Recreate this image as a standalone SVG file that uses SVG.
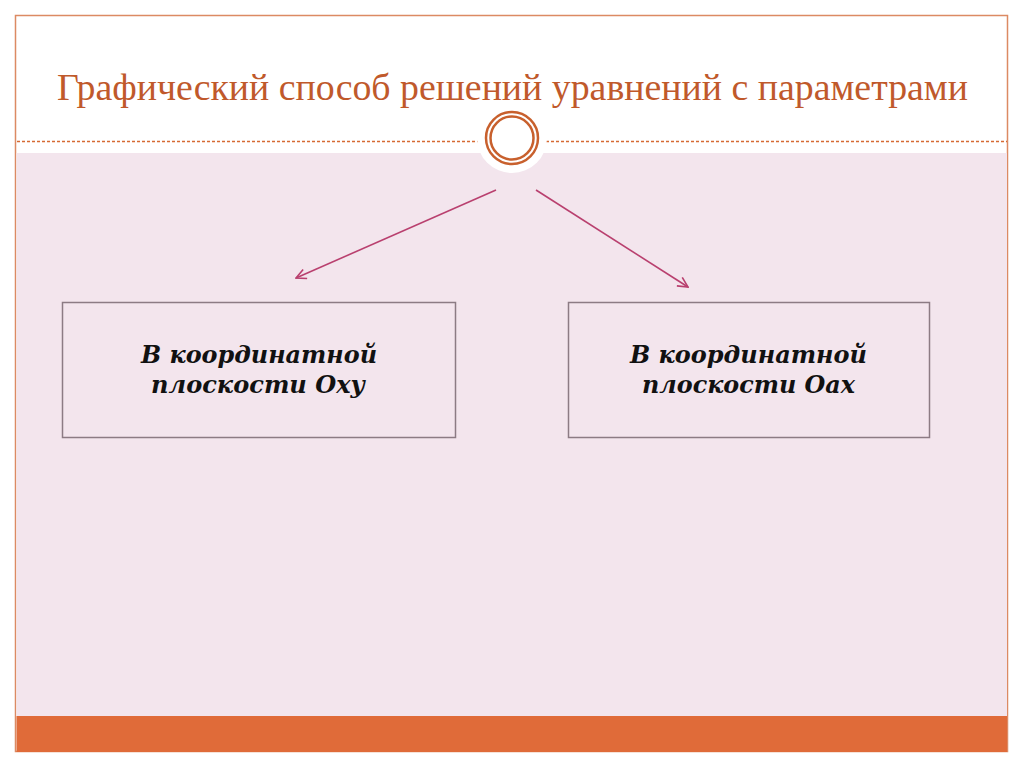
<svg xmlns="http://www.w3.org/2000/svg" width="1024" height="767" viewBox="0 0 1024 767">
<defs>
<style>
.box{fill:none;stroke:#8c7b84;stroke-width:1.5}
.lbl{font-family:"DejaVu Serif","Liberation Serif",serif;font-weight:bold;font-style:italic;font-size:24px;fill:#111;text-anchor:middle}
.arr{stroke:#b9406f;stroke-width:1.6;fill:none}
</style>
<marker id="ah" viewBox="0 0 12 12" refX="11" refY="6" markerWidth="12" markerHeight="12" markerUnits="userSpaceOnUse" orient="auto">
<path d="M1,1 L11,6 L1,11" fill="none" stroke="#b9406f" stroke-width="1.6"/>
</marker>
</defs>
<rect x="0" y="0" width="1024" height="767" fill="#ffffff"/>
<rect x="15.5" y="15.5" width="992" height="736" fill="#ffffff" stroke="#dc8a63" stroke-width="1.5"/>
<rect x="16.5" y="153" width="990.5" height="563" fill="#f3e5ed"/>
<rect x="16.5" y="716" width="990.5" height="36" fill="#e06b39"/>
<line x1="17" y1="141.5" x2="478" y2="141.5" stroke="#d56a33" stroke-width="1.3" stroke-dasharray="3,2"/>
<line x1="546" y1="141.5" x2="1007" y2="141.5" stroke="#d56a33" stroke-width="1.3" stroke-dasharray="3,2"/>
<circle cx="512" cy="138" r="35" fill="#ffffff"/>
<circle cx="512" cy="138" r="26" fill="none" stroke="#c8602d" stroke-width="2.5"/>
<circle cx="512" cy="138" r="21.5" fill="none" stroke="#c8602d" stroke-width="2.5"/>
<text x="512.5" y="100" font-family="'Liberation Serif','DejaVu Serif',serif" font-size="38" fill="#c0592b" text-anchor="middle" textLength="911" lengthAdjust="spacingAndGlyphs">Графический способ решений уравнений с параметрами</text>
<g id="connectors">
<line class="arr" x1="496" y1="190" x2="296" y2="278" marker-end="url(#ah)"/>
<line class="arr" x1="536" y1="190" x2="688" y2="287" marker-end="url(#ah)"/>
</g>
<g id="node-oxy">
<rect class="box" x="62.5" y="302.5" width="393" height="135"/>
<text class="lbl" x="259" y="363" textLength="236" lengthAdjust="spacingAndGlyphs">В координатной</text>
<text class="lbl" x="258" y="393" textLength="214" lengthAdjust="spacingAndGlyphs">плоскости Оху</text>
</g>
<g id="node-oax">
<rect class="box" x="568.5" y="302.5" width="361" height="135"/>
<text class="lbl" x="748.5" y="363" textLength="237" lengthAdjust="spacingAndGlyphs">В координатной</text>
<text class="lbl" x="748.5" y="393" textLength="213" lengthAdjust="spacingAndGlyphs">плоскости Оах</text>
</g>
</svg>
